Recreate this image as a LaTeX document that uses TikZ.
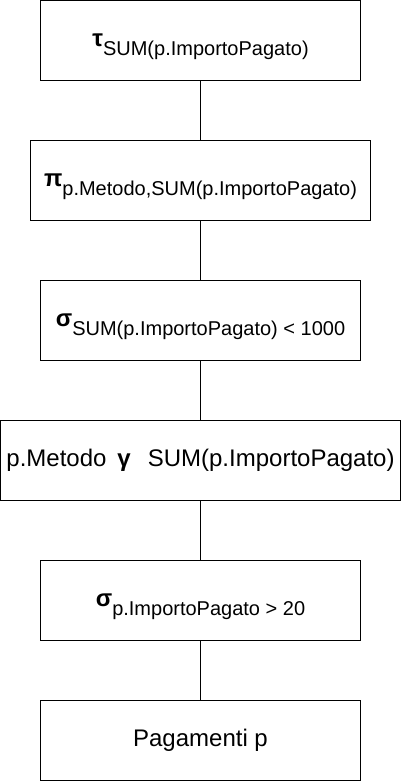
\documentclass[tikz,border=0pt]{standalone}
\usepackage{fontspec}
\setmainfont{Liberation Sans}
\usetikzlibrary{positioning}
\newcommand{\opsym}[2]{{\fontsize{24}{28}\selectfont\bfseries #1}\raisebox{-9pt}{\fontsize{20}{24}\selectfont #2}}

\begin{document}
\begin{tikzpicture}[x=1pt,y=-1pt,
  every node/.style={font=\fontsize{24}{28}\selectfont},
  op/.style={draw,line width=1pt,minimum width=320pt,minimum height=80pt,inner sep=0pt},
  sub/.style={text height=25.5pt,text depth=13pt}]
 \useasboundingbox (0,0) rectangle (401,781);
 \node[op,sub] (tau) at (200.5,40.5) {\opsym{τ}{SUM(p.ImportoPagato)}};
 \node[op,sub,minimum width=340pt] (proj) at (200.5,180.5) {\opsym{π}{p.Metodo,SUM(p.ImportoPagato)}};
 \node[op,sub] (having) at (200.5,320.5) {\opsym{σ}{SUM(p.ImportoPagato) < 1000}};
 \node[op,minimum width=400pt] (group) at (200.5,460.5) {p.Metodo\hspace{11pt}\textbf{γ}\hspace{17pt}SUM(p.ImportoPagato)};
 \node[op,sub] (where) at (200.5,600.5) {\opsym{σ}{p.ImportoPagato > 20}};
 \node[op] (pag) at (200.5,740.5) {Pagamenti p};
 \foreach \a/\b in {tau/proj,proj/having,having/group,group/where,where/pag} \draw[line width=1pt] (\a)--(\b);
\end{tikzpicture}
\end{document}
